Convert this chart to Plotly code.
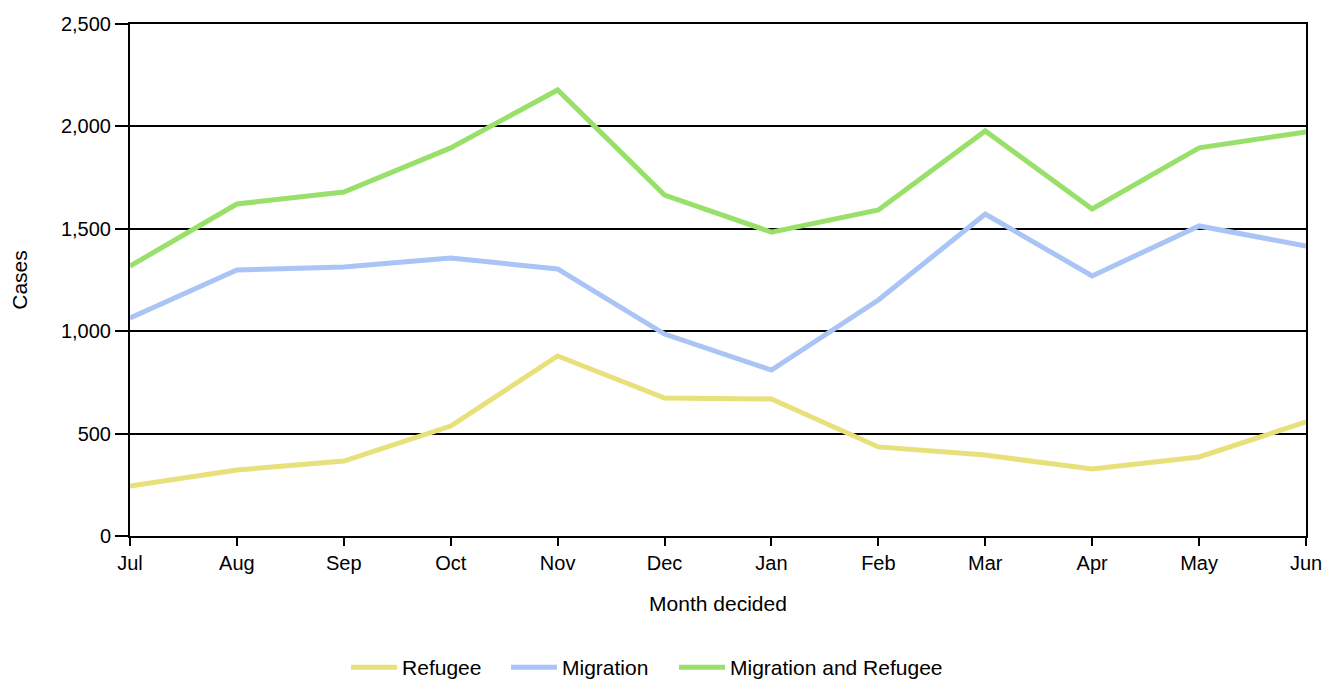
import plotly.graph_objects as go

months = ["Jul", "Aug", "Sep", "Oct", "Nov", "Dec", "Jan", "Feb", "Mar", "Apr", "May", "Jun"]
refugee = [244, 322, 366, 537, 879, 674, 669, 435, 395, 327, 386, 557]
migration = [1064, 1299, 1313, 1357, 1304, 986, 810, 1152, 1572, 1270, 1514, 1416]
migration_and_refugee = [1318, 1621, 1680, 1895, 2178, 1665, 1484, 1592, 1978, 1597, 1895, 1973]

y_ticks = [0, 500, 1000, 1500, 2000, 2500]

series = [
    ("Refugee", refugee, "#E8E07A", "legend"),
    ("Migration", migration, "#A9C4F5", "legend2"),
    ("Migration and Refugee", migration_and_refugee, "#99E06A", "legend3"),
]

fig = go.Figure()
for name, vals, color, lg in series:
    fig.add_trace(go.Scatter(
        x=months, y=vals, name=name, mode="lines",
        line=dict(color=color, width=5), legend=lg,
    ))

font_family = "Liberation Sans, Arial, sans-serif"


def legend_at(xpos):
    return dict(orientation="h", x=xpos, xanchor="left",
                yref="container", y=0.03, yanchor="middle",
                font=dict(size=21), itemwidth=46, bgcolor="rgba(0,0,0,0)")


fig.update_layout(
    width=1337, height=680,
    margin=dict(l=122, r=39, t=16, b=152, autoexpand=False),
    paper_bgcolor="white", plot_bgcolor="white",
    font=dict(family=font_family, size=20, color="black"),
    showlegend=True,
    legend=legend_at(0.1837),
    legend2=legend_at(0.3197),
    legend3=legend_at(0.4626),
    xaxis=dict(
        type="category", range=[0, 11],
        showline=True, linecolor="black", linewidth=2, mirror=True,
        ticks="outside", ticklen=8, tickcolor="black", tickwidth=2,
        showgrid=False, automargin=False,
        title=dict(text="Month decided", font=dict(size=21), standoff=23),
    ),
    yaxis=dict(
        range=[0, 2500], tickvals=y_ticks, tickformat=",",
        showline=True, linecolor="black", linewidth=2, mirror=True,
        ticks="outside", ticklen=13, tickcolor="black", tickwidth=2,
        showgrid=True, gridcolor="black", gridwidth=2,
        zeroline=False, automargin=False,
        title=dict(text="Cases", font=dict(size=21), standoff=36),
    ),
)

fig.write_html("out.html")
